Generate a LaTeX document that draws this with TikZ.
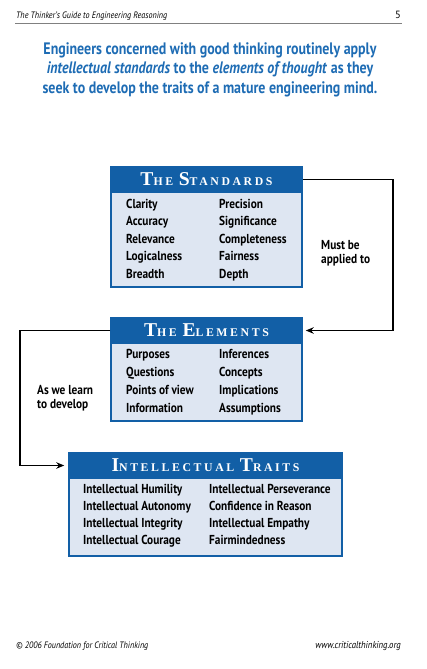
\documentclass[tikz,border=0pt]{standalone}
\usepackage{fontspec}
\setmainfont{PT Sans}
\newfontfamily\condfont[FakeStretch=0.87]{PT Sans}
\newfontfamily\leadfont[FakeStretch=0.84]{PT Sans}
\newfontfamily\capsfont[LetterSpace=22]{Liberation Serif}
\usetikzlibrary{arrows.meta}

\definecolor{headblue}{RGB}{18,95,166}
\definecolor{titleblue}{RGB}{30,108,180}
\definecolor{bodyblue}{RGB}{222,230,242}

% big first letter, smaller capitals after it
\newcommand{\smallcap}[2]{{\fontsize{19.6}{19.6}\selectfont #1}{\fontsize{11.8}{11.8}\selectfont #2}}

\tikzset{
  headbox/.style={fill=headblue, draw=headblue, line width=1.5pt, text=white, minimum height=25pt, inner sep=0pt, font=\capsfont\bfseries\fontsize{12}{12}\selectfont},
  bodybox/.style={fill=bodyblue, draw=headblue, line width=1.5pt, inner sep=0pt},
  item/.style={anchor=base west, inner sep=0pt, font=\condfont\bfseries\fontsize{13}{13}\selectfont},
  note/.style={anchor=west, inner sep=0pt, align=left, font=\condfont\bfseries\fontsize{13}{13.5}\selectfont},
  lead/.style={anchor=base, inner sep=0pt, text=titleblue, font=\leadfont\bfseries\fontsize{16.6}{19}\selectfont},
  pagetext/.style={inner sep=0pt, font=\condfont\itshape\fontsize{9.3}{9.3}\selectfont},
  link/.style={line width=1.2pt, -{Stealth[length=8pt,width=6.5pt]}},
}

\begin{document}
\begin{tikzpicture}[x=1pt,y=-1pt]
    \useasboundingbox (0,0) rectangle (426,669);

    % page header and footer
    \node[pagetext, anchor=base west] (guide) at (16,19) {The Thinker’s Guide to Engineering Reasoning};
    \node[anchor=base east, inner sep=0pt, font=\fontsize{10.5}{10.5}\selectfont] (page) at (401,19) {5};
    \draw[gray, line width=0.8pt] (15,23.3) -- (402,23.3);
    \node[pagetext, anchor=base west] (copy) at (16,648) {© 2006 Foundation for Critical Thinking};
    \node[pagetext, anchor=base east, font=\condfont\itshape\fontsize{10}{10}\selectfont] (web) at (401,648) {www.criticalthinking.org};

    % lead text
    \node[lead] (lead1) at (210,55) {Engineers concerned with good thinking routinely apply};
    \node[lead] (lead2) at (210,74) {\textit{intellectual standards} to the \textit{elements of thought} as they};
    \node[lead] (lead3) at (210,93) {seek to develop the traits of a mature engineering mind.};

    % The Standards
    \node[bodybox, minimum width=191pt, minimum height=95pt] (stdbody) at (206.5,239.5) {};
    \node[headbox, minimum width=191pt] (stdhead) at (206.5,179.5) {\smallcap{T}{HE} \smallcap{S}{TANDARDS}};
    \foreach \txt [count=\i] in {Clarity, Accuracy, Relevance, Logicalness, Breadth}
        \node[item] (stdl\i) at (126,{208+17.5*(\i-1)}) {\txt};
    \foreach \txt [count=\i] in {Precision, Significance, Completeness, Fairness, Depth}
        \node[item] (stdr\i) at (219,{208+17.5*(\i-1)}) {\txt};

    % The Elements
    \node[bodybox, minimum width=191pt, minimum height=78pt] (elbody) at (206.5,382) {};
    \node[headbox, minimum width=191pt] (elhead) at (206.5,330.5) {\smallcap{T}{HE} \smallcap{E}{LEMENTS}};
    \foreach \txt [count=\i] in {Purposes, Questions, Points of view, Information}
        \node[item] (ell\i) at (126,{358+18*(\i-1)}) {\txt};
    \foreach \txt [count=\i] in {Inferences, Concepts, Implications, Assumptions}
        \node[item] (elr\i) at (219,{358+18*(\i-1)}) {\txt};

    % Intellectual Traits
    \node[bodybox, minimum width=273pt, minimum height=78pt] (trbody) at (205.5,517) {};
    \node[headbox, minimum width=273pt] (trhead) at (205.5,465.5) {\smallcap{I}{NTELLECTUAL} \smallcap{T}{RAITS}};
    \foreach \txt [count=\i] in {Intellectual Humility, Intellectual Autonomy, Intellectual Integrity, Intellectual Courage}
        \node[item] (trl\i) at (83,{493+17.3*(\i-1)}) {\txt};
    \foreach \txt [count=\i] in {Intellectual Perseverance, Confidence in Reason, Intellectual Empathy, Fairmindedness}
        \node[item] (trr\i) at (209,{493+17.3*(\i-1)}) {\txt};

    % connectors
    \coordinate (rturn) at (393,179.5);
    \coordinate (lturn) at (20,330.5);
    \draw[link, shorten >=3pt] (stdhead.east) -- (rturn) |- (elhead.east);
    \draw[link, shorten >=4pt] (elhead.west) -- (lturn) |- (trhead.west);
    \node[note] (must) at (321,253) {Must be\\applied to};
    \node[note] (learn) at (37,398) {As we learn\\to develop};
\end{tikzpicture}
\end{document}
